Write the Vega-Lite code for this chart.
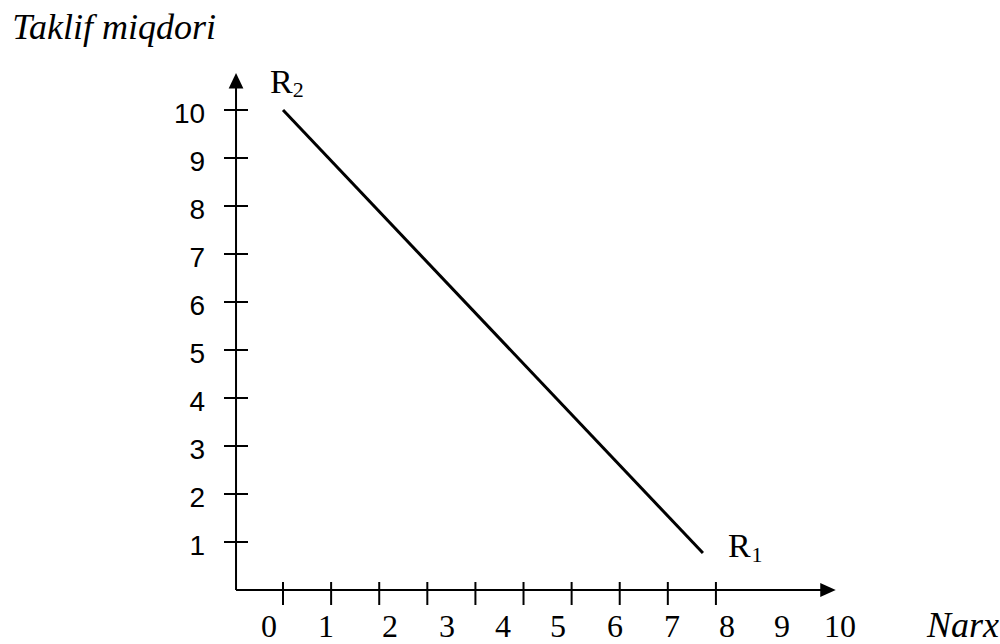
{
  "$schema": "https://vega.github.io/schema/vega-lite/v6.json",
  "width": 1000,
  "height": 644,
  "autosize": {"type": "none"},
  "padding": 0,
  "background": "white",
  "config": {"view": {"stroke": null}},
  "datasets": {
    "curve": [{"x": 0, "y": 10}, {"x": 8.73, "y": 0.77}],
    "axes": [
      {"x": -0.977, "y": 0, "x2": -0.977, "y2": 10.5},
      {"x": -0.977, "y": 0, "x2": 11.3, "y2": 0}
    ],
    "arrows": [
      {"x": 11.33, "y": 0, "dir": "right"},
      {"x": -0.977, "y": 10.61, "dir": "up"}
    ],
    "yticks": [{"v": 1}, {"v": 2}, {"v": 3}, {"v": 4}, {"v": 5}, {"v": 6}, {"v": 7}, {"v": 8}, {"v": 9}, {"v": 10}],
    "xticks": [{"v": 0}, {"v": 1}, {"v": 2}, {"v": 3}, {"v": 4}, {"v": 5}, {"v": 6}, {"v": 7}, {"v": 8}, {"v": 9}],
    "xlabels": [
      {"t": "0", "x": -0.291}, {"t": "1", "x": 0.894}, {"t": "2", "x": 2.225},
      {"t": "3", "x": 3.41}, {"t": "4", "x": 4.574}, {"t": "5", "x": 5.717},
      {"t": "6", "x": 6.902}, {"t": "7", "x": 8.087}, {"t": "8", "x": 9.231},
      {"t": "9", "x": 10.374}, {"t": "10", "x": 11.58}
    ],
    "titles": [
      {"t": "Taklif miqdori", "x": -5.63, "y": 11.48},
      {"t": "Narx", "x": 13.39, "y": -0.98}
    ],
    "rmain": [
      {"t": "R", "x": -0.27, "y": 10.35},
      {"t": "R", "x": 9.25, "y": 0.69}
    ],
    "rsub": [
      {"t": "2", "x": 0.2, "y": 10.27},
      {"t": "1", "x": 9.74, "y": 0.583}
    ]
  },
  "layer": [
    {
      "data": {"name": "axes"},
      "mark": {"type": "rule", "color": "black", "strokeWidth": 2},
      "encoding": {
        "x": {"field": "x", "type": "quantitative", "axis": null, "scale": {"domain": [-5.884, 14.906], "nice": false, "zero": false}},
        "y": {"field": "y", "type": "quantitative", "axis": null, "scale": {"domain": [-1.125, 12.292], "nice": false, "zero": false}},
        "x2": {"field": "x2"},
        "y2": {"field": "y2"}
      }
    },
    {
      "data": {"name": "arrows"},
      "mark": {"type": "point", "filled": true, "color": "black", "opacity": 1, "size": 240, "strokeWidth": 0},
      "encoding": {
        "x": {"field": "x", "type": "quantitative", "axis": null, "scale": {"domain": [-5.884, 14.906], "nice": false, "zero": false}},
        "y": {"field": "y", "type": "quantitative", "axis": null, "scale": {"domain": [-1.125, 12.292], "nice": false, "zero": false}},
        "shape": {"field": "dir", "type": "nominal", "legend": null, "scale": {"domain": ["right", "up"], "range": ["M1,0L-1,-0.9L-1,0.9Z", "M0,-1L-0.95,1L0.95,1Z"]}}
      }
    },
    {
      "data": {"name": "yticks"},
      "mark": {"type": "rule", "color": "black", "strokeWidth": 2},
      "encoding": {
        "y": {"field": "v", "type": "quantitative", "axis": null, "scale": {"domain": [-1.125, 12.292], "nice": false, "zero": false}},
        "x": {"datum": -1.227, "type": "quantitative", "axis": null, "scale": {"domain": [-5.884, 14.906], "nice": false, "zero": false}},
        "x2": {"datum": -0.728}
      }
    },
    {
      "data": {"name": "xticks"},
      "mark": {"type": "rule", "color": "black", "strokeWidth": 2},
      "encoding": {
        "x": {"field": "v", "type": "quantitative", "axis": null, "scale": {"domain": [-5.884, 14.906], "nice": false, "zero": false}},
        "y": {"datum": -0.3125, "type": "quantitative", "axis": null, "scale": {"domain": [-1.125, 12.292], "nice": false, "zero": false}},
        "y2": {"datum": 0.1667}
      }
    },
    {
      "data": {"name": "yticks"},
      "mark": {"type": "text", "font": "Liberation Sans", "fontSize": 28, "align": "right", "baseline": "middle", "dy": 5, "color": "black"},
      "encoding": {
        "y": {"field": "v", "type": "quantitative", "axis": null, "scale": {"domain": [-1.125, 12.292], "nice": false, "zero": false}},
        "x": {"datum": -1.62, "type": "quantitative", "axis": null, "scale": {"domain": [-5.884, 14.906], "nice": false, "zero": false}},
        "text": {"field": "v", "type": "quantitative"}
      }
    },
    {
      "data": {"name": "xlabels"},
      "mark": {"type": "text", "font": "Liberation Serif", "fontSize": 32, "align": "center", "baseline": "alphabetic", "color": "black"},
      "encoding": {
        "x": {"field": "x", "type": "quantitative", "axis": null, "scale": {"domain": [-5.884, 14.906], "nice": false, "zero": false}},
        "y": {"datum": -0.98, "type": "quantitative", "axis": null, "scale": {"domain": [-1.125, 12.292], "nice": false, "zero": false}},
        "text": {"field": "t", "type": "nominal"}
      }
    },
    {
      "data": {"name": "titles"},
      "mark": {"type": "text", "font": "Liberation Serif", "fontStyle": "italic", "fontSize": 36, "align": "left", "baseline": "alphabetic", "color": "black"},
      "encoding": {
        "x": {"field": "x", "type": "quantitative", "axis": null, "scale": {"domain": [-5.884, 14.906], "nice": false, "zero": false}},
        "y": {"field": "y", "type": "quantitative", "axis": null, "scale": {"domain": [-1.125, 12.292], "nice": false, "zero": false}},
        "text": {"field": "t", "type": "nominal"}
      }
    },
    {
      "data": {"name": "rmain"},
      "mark": {"type": "text", "font": "Liberation Serif", "fontSize": 34, "align": "left", "baseline": "alphabetic", "color": "black"},
      "encoding": {
        "x": {"field": "x", "type": "quantitative", "axis": null, "scale": {"domain": [-5.884, 14.906], "nice": false, "zero": false}},
        "y": {"field": "y", "type": "quantitative", "axis": null, "scale": {"domain": [-1.125, 12.292], "nice": false, "zero": false}},
        "text": {"field": "t", "type": "nominal"}
      }
    },
    {
      "data": {"name": "rsub"},
      "mark": {"type": "text", "font": "Liberation Serif", "fontSize": 22, "align": "left", "baseline": "alphabetic", "color": "black"},
      "encoding": {
        "x": {"field": "x", "type": "quantitative", "axis": null, "scale": {"domain": [-5.884, 14.906], "nice": false, "zero": false}},
        "y": {"field": "y", "type": "quantitative", "axis": null, "scale": {"domain": [-1.125, 12.292], "nice": false, "zero": false}},
        "text": {"field": "t", "type": "nominal"}
      }
    },
    {
      "data": {"name": "curve"},
      "mark": {"type": "line", "color": "black", "strokeWidth": 3},
      "encoding": {
        "x": {"field": "x", "type": "quantitative", "axis": null, "scale": {"domain": [-5.884, 14.906], "nice": false, "zero": false}},
        "y": {"field": "y", "type": "quantitative", "axis": null, "scale": {"domain": [-1.125, 12.292], "nice": false, "zero": false}}
      }
    }
  ]
}
